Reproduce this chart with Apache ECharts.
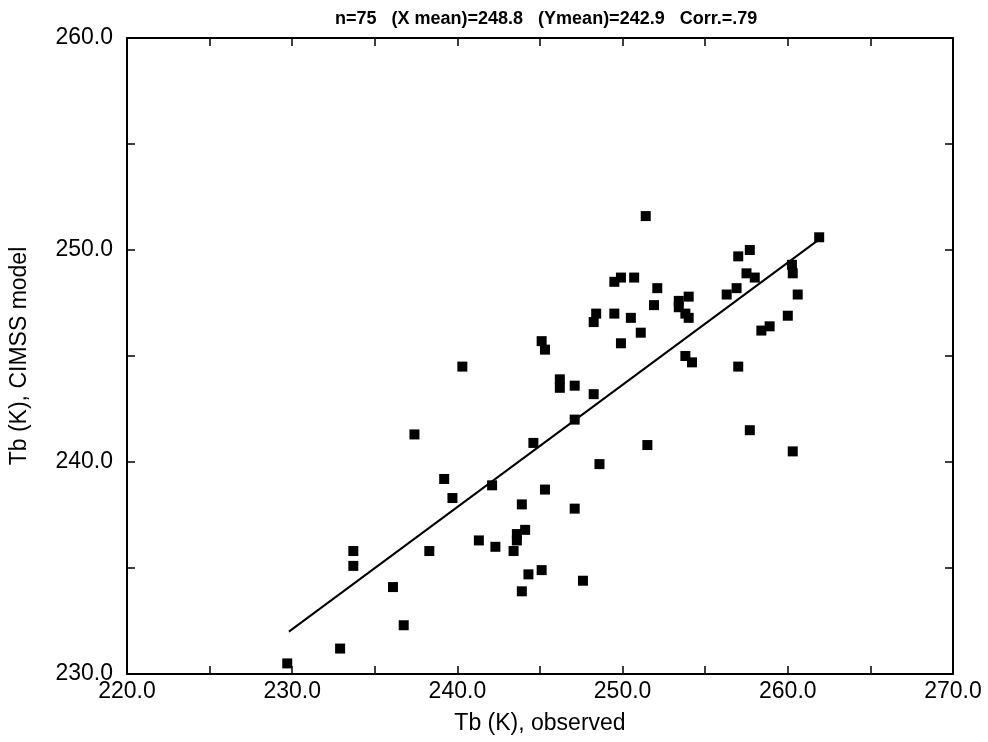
<!DOCTYPE html>
<html>
<head>
<meta charset="utf-8">
<script src="https://cdn.jsdelivr.net/npm/echarts@6/dist/echarts.min.js"></script>
<style>
html,body{margin:0;padding:0;background:#fff;}
#chart{width:988px;height:742px;}
</style>
</head>
<body>
<div id="chart"></div>
<script>
// observed Tb (x) and CIMSS model Tb (y)
var obsX = [229.7,232.9,233.7,233.7,236.1,236.75,237.4,238.3,239.2,239.7,
	240.3,241.3,242.1,242.3,243.4,243.6,243.6,244.1,243.9,243.9,
	244.3,245.1,245.3,244.6,247.1,247.6,247.1,248.6,245.1,245.3,
	246.2,246.2,247.1,248.25,248.4,248.25,249.5,249.9,250.7,249.5,
	250.5,249.9,251.1,252.1,251.9,253.4,253.4,254.0,253.8,254.0,
	251.4,251.5,253.8,254.2,257.0,257.7,260.3,256.3,256.9,257.0,
	257.7,257.5,258.0,258.4,258.9,260.0,260.25,260.3,260.6,261.9]
var modelY = [230.5,231.2,235.8,235.1,234.1,232.3,241.3,235.8,239.2,238.3,
	244.5,236.3,238.9,236.0,235.8,236.6,236.3,236.8,238.0,233.9,
	234.7,234.9,238.7,240.9,237.8,234.4,242.0,239.9,245.7,245.3,
	243.9,243.5,243.6,243.2,247.0,246.6,248.5,248.7,248.7,247.0,
	246.8,245.6,246.1,248.2,247.4,247.6,247.3,247.8,247.0,246.8,
	251.6,240.8,245.0,244.7,244.5,241.5,240.5,247.9,248.2,249.7,
	250.0,248.9,248.7,246.2,246.4,246.9,249.3,248.9,247.9,250.6]
// fitted line ends
var fitX = [229.8, 261.9]
var fitY = [232.0, 250.5]

var xTicks = [220, 270, 5]  // min, max, step
var yTicks = [230, 260, 5]

var titleText = 'n=75   (X mean)=248.8   (Ymean)=242.9   Corr.=.79'
var xName = 'Tb (K), observed'
var yName = 'Tb (K), CIMSS model'

var pts = obsX.map(function(x, i){ return [x, modelY[i]] })
var fit = fitX.map(function(x, i){ return [x, fitY[i]] })

function lbl(v){ return v % 10 === 0 ? v.toFixed(1) : '' }

var font = 'Liberation Sans, Arial, sans-serif'
var axLine = {show: true, lineStyle: {color: '#000', width: 2}}
var tick = {show: true, inside: true, length: 8, lineStyle: {color: '#000', width: 1.5}}

var option = {
	animation: false,
	backgroundColor: '#fff',
	title: {
		text: titleText,
		left: 330,
		top: 5,
		textStyle: {fontFamily: font, fontSize: 18, fontWeight: 'bold', color: '#000'}
	},
	grid: {left: 127, right: 35, top: 38, bottom: 68},
	xAxis: [{
		type: 'value', min: xTicks[0], max: xTicks[1], interval: xTicks[2],
		name: xName, nameLocation: 'middle', nameGap: 38,
		nameTextStyle: {fontFamily: font, fontSize: 23, color: '#000'},
		axisLine: axLine, axisTick: tick, splitLine: {show: false},
		axisLabel: {formatter: lbl, margin: 6, fontFamily: font, fontSize: 23, color: '#000', showMinLabel: true, showMaxLabel: true}
	}, {
		type: 'value', position: 'top', min: xTicks[0], max: xTicks[1], interval: xTicks[2],
		axisLine: axLine, axisTick: tick, axisLabel: {show: false}, splitLine: {show: false}
	}],
	yAxis: [{
		type: 'value', min: yTicks[0], max: yTicks[1], interval: yTicks[2],
		name: yName, nameLocation: 'middle', nameGap: 96, nameRotate: 90,
		nameTextStyle: {fontFamily: font, fontSize: 23, color: '#000'},
		axisLine: axLine, axisTick: tick, splitLine: {show: false},
		axisLabel: {formatter: lbl, margin: 14, fontFamily: font, fontSize: 23, color: '#000'}
	}, {
		type: 'value', position: 'right', min: yTicks[0], max: yTicks[1], interval: yTicks[2],
		axisLine: axLine, axisTick: tick, axisLabel: {show: false}, splitLine: {show: false}
	}],
	series: [{
		type: 'scatter',
		data: pts,
		symbol: 'rect',
		symbolSize: 10,
		itemStyle: {color: '#000', opacity: 1}
	}, {
		type: 'line',
		data: fit,
		symbol: 'none',
		lineStyle: {color: '#000', width: 2}
	}]
}

var myChart = echarts.init(document.getElementById('chart'))
myChart.setOption(option)
</script>
</body>
</html>
